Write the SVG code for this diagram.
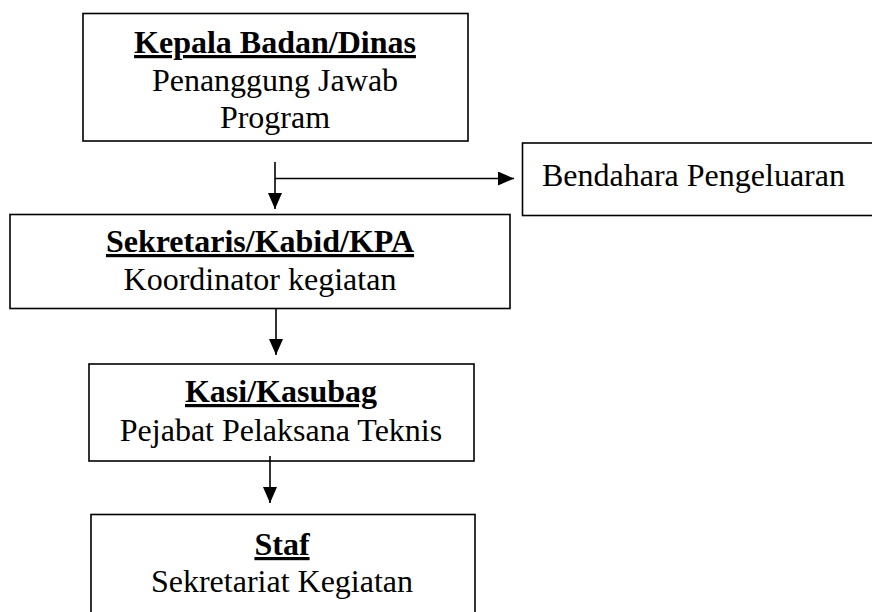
<svg xmlns="http://www.w3.org/2000/svg" width="872" height="612" viewBox="0 0 872 612">
<style>
.box{fill:#fff;stroke:#000;stroke-width:1.6}
.t{font-family:"Liberation Serif","Times New Roman",serif;font-size:32px;fill:#000;text-anchor:middle}
.h{font-weight:bold;text-decoration:underline;text-decoration-thickness:3px;text-underline-offset:4px}
.b{text-anchor:start}
.c{stroke:#000;stroke-width:1.6;fill:none}
</style>
<defs>
<marker id="av" viewBox="0 0 10 10" refX="10" refY="5" markerWidth="16" markerHeight="14" markerUnits="userSpaceOnUse" orient="auto" preserveAspectRatio="none">
<path d="M0,0 L10,5 L0,10 Z" fill="#000"/>
</marker>
</defs>
<g id="kepala">
<rect class="box" x="83" y="13.5" width="385" height="127.5"/>
<text class="t h" x="275" y="53">Kepala Badan/Dinas</text>
<text class="t" x="275" y="91">Penanggung Jawab</text>
<text class="t" x="275" y="128">Program</text>
</g>
<g id="bendahara">
<rect class="box" x="522.5" y="143" width="360" height="72.5"/>
<text class="t b" x="542" y="186">Bendahara Pengeluaran</text>
</g>
<g id="sekretaris">
<rect class="box" x="10" y="214.5" width="500" height="94"/>
<text class="t h" x="260" y="252">Sekretaris/Kabid/KPA</text>
<text class="t" x="260" y="290">Koordinator kegiatan</text>
</g>
<g id="kasi">
<rect class="box" x="89" y="364" width="385" height="97"/>
<text class="t h" x="281" y="402">Kasi/Kasubag</text>
<text class="t" x="281" y="441">Pejabat Pelaksana Teknis</text>
</g>
<g id="staf">
<rect class="box" x="91" y="514.5" width="384" height="110"/>
<text class="t h" x="282" y="555">Staf</text>
<text class="t" x="282" y="592">Sekretariat Kegiatan</text>
</g>
<g id="connectors">
<path class="c" d="M275,162 V209" marker-end="url(#av)"/>
<path class="c" d="M275,178.5 H514" marker-end="url(#av)"/>
<path class="c" d="M276,309 V355" marker-end="url(#av)"/>
<path class="c" d="M270,456 V503" marker-end="url(#av)"/>
</g>
</svg>
